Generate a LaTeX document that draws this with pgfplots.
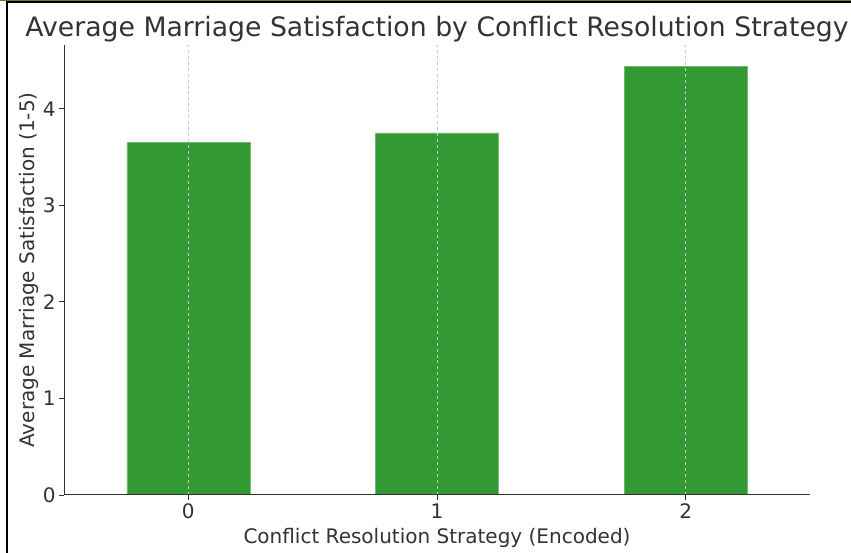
\documentclass[border=0pt]{standalone}
\usepackage{pgfplots}
\pgfplotsset{compat=1.18}
\usepackage{fontspec}
\setmainfont{DejaVu Sans}
\definecolor{bargreen}{RGB}{51,153,51}
\definecolor{txt}{RGB}{51,51,51}
\definecolor{olive}{RGB}{110,120,40}
\begin{document}
\begin{tikzpicture}[x=1bp,y=1bp]
\path[use as bounding box] (0,0) rectangle (851,553);
\fill[olive] (0,551.5) rectangle (851,553);
\draw[black,line width=2bp] (7,0) -- (7,550.5) -- (851,550.5);
\begin{axis}[
  at={(64bp,58bp)}, anchor=south west,
  scale only axis, width=746bp, height=450bp,
  xmin=-0.5, xmax=2.5, ymin=0, ymax=4.66,
  axis x line*=bottom, axis y line*=left,
  axis line style={txt, line width=1bp},
  xtick={0,1,2}, ytick={0,1,2,3,4},
  tick style={txt, line width=0.8bp}, tick align=outside,
  major tick length=5bp,
  xmajorgrids, grid style={dashed, gray!45, line width=0.6bp},
  axis on top,
  ybar, bar width=123bp, bar shift=0pt,
  ticklabel style={font=\fontsize{20bp}{24bp}\selectfont, text=txt},
  /pgf/number format/assume math mode=true,
  xlabel={Conflict Resolution Strategy (Encoded)},
  ylabel={Average Marriage Satisfaction (1-5)},
  label style={font=\fontsize{20bp}{24bp}\selectfont, text=txt},
  xlabel style={yshift=-3bp},
  ylabel style={yshift=-3bp},
  title={Average Marriage Satisfaction by Conflict Resolution Strategy},
  title style={font=\fontsize{26.7bp}{30bp}\selectfont, text=txt, yshift=-7bp},
]
\addplot[fill=bargreen, draw=bargreen!70!white, line width=0.5bp] coordinates {(0,3.65) (1,3.75) (2,4.435)};
\end{axis}
\end{tikzpicture}
\end{document}
